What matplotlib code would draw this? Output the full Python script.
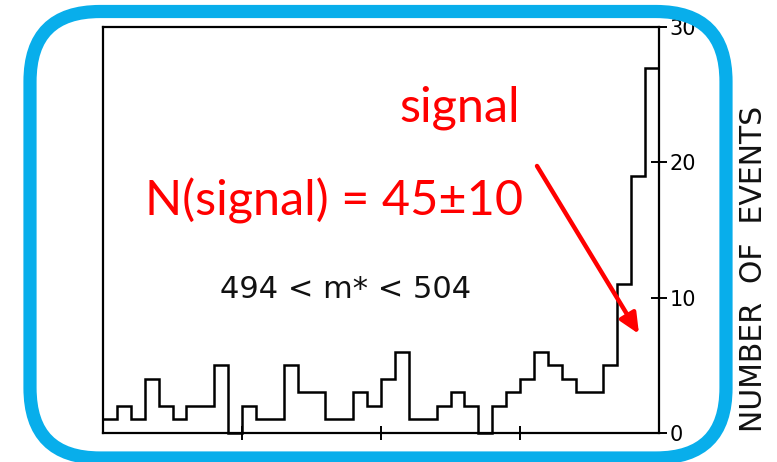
import numpy as np
import matplotlib
matplotlib.use('Agg')
import matplotlib.pyplot as plt
from matplotlib.patches import FancyBboxPatch
from matplotlib.transforms import IdentityTransform

# ---- data ----
counts = [1, 2, 1, 4, 2, 1, 2, 2, 5, 0,
          2, 1, 1, 5, 3, 3, 1, 1, 3, 2,
          4, 6, 1, 1, 2, 3, 2, 0, 2, 3,
          4, 6, 5, 4, 3, 3, 5, 11, 19, 27]
bin_edges = np.arange(len(counts) + 1)
y_ticks = [0, 10, 20, 30]
y_ticklabels = ['0', '10', '20', '30']
x_ticks = [10, 20, 30]
y_label = 'NUMBER  OF  EVENTS'
mass_window = '494 < m* < 504'
signal_text = 'signal'
nsignal_text = 'N(signal) = 45±10'

W, H = 777, 462
fig = plt.figure(figsize=(W / 100, H / 100), dpi=100)
fig.patch.set_facecolor('white')

ax = fig.add_axes([103 / W, 29 / H, 556 / W, 406 / H])
ax.set_xlim(0, len(counts))
ax.set_ylim(0, 30)

ax.stairs(counts, bin_edges, color='black', lw=1.8, baseline=None, clip_on=False)

for s in ax.spines.values():
    s.set_linewidth(1.6)
    s.set_color('black')

ax.yaxis.tick_right()
ax.set_yticks(y_ticks)
ax.set_yticklabels(y_ticklabels)
ax.set_xticks(x_ticks)
ax.set_xticklabels([])
ax.tick_params(axis='y', direction='inout', length=11, width=1.4, labelsize=15, pad=2)
ax.tick_params(axis='x', direction='inout', length=10, width=1.4)

# annotations
def fx(x):
    return x / W

def fy(y):
    return 1 - y / H

fig.text(fx(753), fy(269), y_label, fontsize=21.5, rotation=90,
         ha='center', va='center', color='#111111')

fig.text(fx(460), fy(121), signal_text, color='red', fontsize=35,
         family='Lato', ha='center', va='baseline')
fig.text(fx(145), fy(216), nsignal_text, color='red', fontsize=35,
         family='Lato', ha='left', va='baseline')
fig.text(fx(220), fy(298), mass_window, color='#111111', fontsize=22,
         family='DejaVu Sans', ha='left', va='baseline')

ax.annotate('', xy=(fx(639), fy(334)), xycoords='figure fraction',
            xytext=(fx(537), fy(166)), textcoords='figure fraction',
            arrowprops=dict(arrowstyle='-|>,head_length=1.2,head_width=0.55',
                            color='red', lw=3.2, shrinkA=0, shrinkB=0))

# blue rounded frame (pixel coordinates)
left, right, top, bottom = 30, 726, 11.5, 458
frame = FancyBboxPatch((left, H - bottom), right - left, bottom - top,
                       boxstyle='round,pad=0,rounding_size=70',
                       transform=IdentityTransform(), fill=False,
                       edgecolor='#08AEEB', lw=9.5, zorder=10)
fig.add_artist(frame)

fig.savefig('out.png', dpi=100)
